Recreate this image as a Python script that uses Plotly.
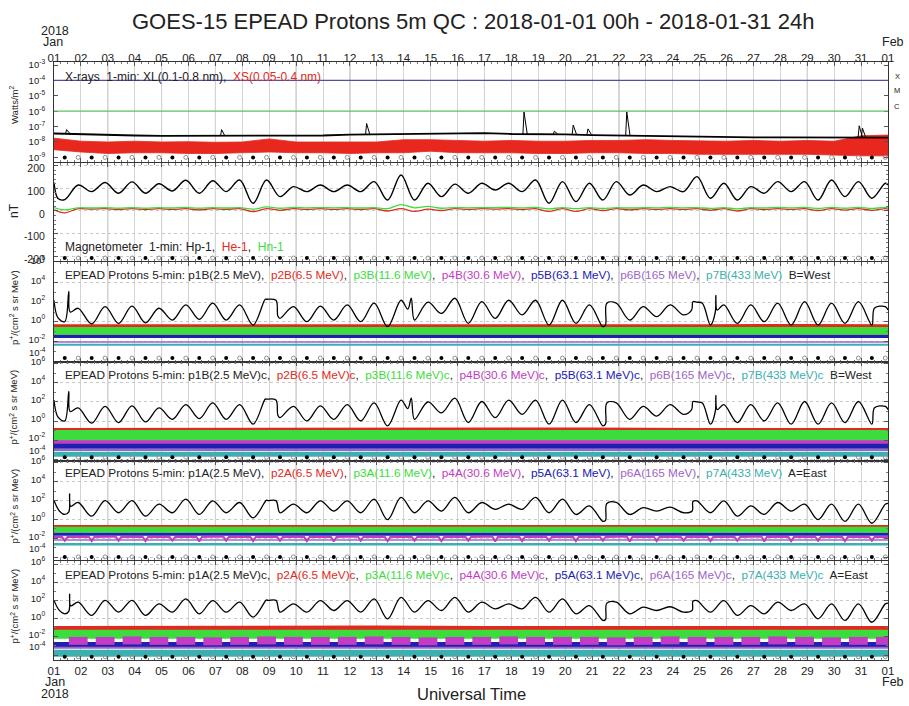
import numpy as np
import plotly.graph_objects as go

W, H = 909, 706

# ---------------- data ----------------
day_labels = ["01", "02", "03", "04", "05", "06", "07", "08", "09", "10", "11", "12", "13", "14", "15", "16",
              "17", "18", "19", "20", "21", "22", "23", "24", "25", "26", "27", "28", "29", "30", "31", "01"]
dark_days = [2, 4, 6, 9, 11, 16, 21, 28]

# sample times (days since 2018-01-01 00 UT): start, then local midnight / local noon of each day, end
grid_t = [0.0] + [d + f for d in range(31) for f in (0.4, 0.9)] + [31.0]
days = list(range(31))

# X-rays (log10 W/m^2)
xl_day_t = list(range(32))
xl_day = [-7.45, -7.5, -7.55, -7.58, -7.6, -7.6, -7.6, -7.58, -7.58, -7.6, -7.58, -7.52, -7.5, -7.5, -7.48, -7.45,
          -7.42, -7.48, -7.48, -7.5, -7.55, -7.58, -7.6, -7.62, -7.65, -7.68, -7.7, -7.7, -7.7, -7.72, -7.7, -7.72]
flare_t = [0.47, 6.23, 11.62, 17.47, 18.6, 19.3, 19.85, 21.29, 29.93, 30.05]
flare_base = [-7.45, -7.6, -7.52, -7.48, -7.48, -7.5, -7.5, -7.58, -7.7, -7.7]
flare_peak = [-7.2, -7.2, -6.8, -6.05, -7.3, -6.9, -7.15, -6.05, -6.95, -7.1]
xs_hi = [-7.75, -7.95, -8.0, -7.95, -8.0, -7.98, -8.02, -8.0, -7.8, -8.0, -8.0, -7.98, -8.0, -7.85, -7.85, -7.9,
         -7.95, -7.9, -7.95, -7.95, -7.9, -7.9, -7.85, -7.9, -7.92, -7.95, -7.9, -7.95, -7.9, -7.95, -7.6, -7.55]
xs_lo = [-8.5, -8.65, -8.75, -8.7, -8.7, -8.75, -8.75, -8.7, -8.65, -8.7, -8.7, -8.75, -8.7, -8.7, -8.6, -8.7,
         -8.7, -8.7, -8.75, -8.75, -8.7, -8.7, -8.75, -8.75, -8.8, -8.8, -8.8, -8.8, -8.8, -8.85, -8.9, -8.9]
class_levels = [1e-4, 1e-6]
class_colors = ["#5050a8", "#60c060"]
class_names = ["X", "M", "C"]

# Magnetometer (nT)
hp = [125,
      50, 114, 85, 125, 78, 128, 78, 120, 88, 135, 78, 133, 85, 136, 34, 136, 63, 107, 85, 114,
      85, 114, 85, 129, 48, 158, 48, 122, 63, 118, 78, 122, 92, 122, 85, 136, 34, 129, 41, 122,
      48, 129, 70, 114, 85, 107, 85, 151, 56, 122, 48, 107, 78, 129, 85, 129, 48, 136, 63, 129,
      56, 122,
      114]
hp_ext_t = [0.15]
hp_ext_v = [55]
he = [5,
      -8, 10, 8, 10, 6, 10, 6, 10, 7, 10, 5, 10, 7, 10, -3, 10, 3, 10, 7, 10,
      7, 10, 6, 10, 0, 10, -2, 8, 2, 10, 7, 10, 8, 10, 6, 10, -2, 10, -2, 10,
      2, 10, 5, 10, 7, 10, 7, 10, 3, 10, 0, 10, 6, 10, 7, 10, 2, 10, 4, 10,
      3, 10,
      8]
hn = [15,
      5, 14, 13, 15, 12, 15, 12, 15, 13, 16, 12, 15, 13, 15, 8, 18, 12, 16, 14, 15,
      14, 15, 13, 15, 10, 28, 14, 20, 12, 15, 14, 15, 15, 16, 13, 16, 9, 15, 10, 15,
      11, 15, 13, 15, 14, 16, 14, 15, 11, 15, 9, 15, 13, 16, 14, 16, 11, 16, 12, 16,
      11, 16,
      16]

# Protons (log10 p+/(cm2 s sr MeV))
p1b = [2.2,
       0.01, 1.38, -0.22, 1.54, -0.16, 1.6, -0.1, 1.38, 0.18, 1.72, 0.25, 1.9, 0.18, 1.72, -0.33, 2.3,
       0.35, 1.54, 0.01, 1.6, 0.18, 1.72, 0.01, 1.9, -0.5, 2.2, 0.18, 2.0, 0.85, 2.4, -0.16, 2.05,
       0.35, 2.2, 0.7, 2.2, -0.33, 2.2, -0.16, 1.72, -0.5, 1.9, 0.18, 1.54, 0.52, 1.72, 0.7, 2.0,
       -0.33, 1.72, -0.16, 1.72, 0.01, 1.9, -0.33, 2.05, -0.33, 1.9, -0.16, 2.05, -0.33, 1.54,
       1.2]
p1b_ext_t = [0.15, 0.55, 0.6, 7.85, 8.25, 8.32, 13.15, 13.28, 20.5, 20.55, 23.7, 23.75, 24.1, 24.58, 24.6, 24.65, 30.5]
p1b_ext_v = [0.4, 3.1, 1.0, 2.3, 2.2, 0.6, 1.3, 2.4, -0.3, 1.9, 1.2, 2.05, 1.9, 1.0, 2.7, 1.2, 1.4]
p1a = [2.0,
       0.53, 1.8, 0.35, 2.0, 0.71, 2.0, 0.35, 1.62, 0.71, 2.16, 0.53, 1.98, 0.71, 1.8, 0.16, 2.05,
       0.71, 1.62, 0.71, 1.98, 0.89, 1.98, 0.71, 2.16, -0.02, 2.34, 0.71, 1.98, 0.89, 2.34, 0.71, 1.8,
       1.07, 1.62, 1.07, 2.34, 0.71, 2.16, 0.53, 1.43, -0.2, 1.8, 0.53, 1.25, 0.89, 1.3, 0.71, 1.98,
       0.71, 1.98, 0.35, 1.43, 0.53, 1.8, 0.89, 1.62, -0.02, 1.62, -0.2, 1.62, -0.4, 1.62,
       1.7]
p1a_ext_t = [0.2, 0.55, 0.58, 0.62, 7.95, 8.25, 20.5, 20.55, 23.72, 23.75]
p1a_ext_v = [0.9, 0.8, 2.7, 1.4, 2.0, 2.0, -0.1, 1.7, 0.9, 1.9]

band_t = [0, 4, 8, 12, 16, 20, 24, 28, 31]
# B detector, uncorrected
p2b = [-0.5, -0.52, -0.5, -0.5, -0.48, -0.5, -0.5, -0.48, -0.5]
p3b = [-0.95, -0.95, -0.9, -0.95, -0.95, -0.9, -0.95, -0.9, -0.95]
p4b = [-1.42, -1.42, -1.4, -1.42, -1.42, -1.4, -1.42, -1.4, -1.42]
p5b = [-1.5, -1.5, -1.48, -1.5, -1.52, -1.5, -1.5, -1.48, -1.5]
p6b = [-2.05, -2.05, -2.05, -2.05, -2.05, -2.05, -2.05, -2.05, -2.05]
p7b = [-2.35, -2.35, -2.33, -2.35, -2.35, -2.35, -2.33, -2.35, -2.35]
# B detector, corrected
p2bc = [-1.2, -1.15, -1.2, -1.15, -1.2, -1.15, -1.2, -1.2, -1.2]
p3bc = [-1.58, -1.58, -1.55, -1.58, -1.58, -1.55, -1.58, -1.58, -1.58]
p4bc = [-2.4, -2.4, -2.38, -2.4, -2.4, -2.38, -2.4, -2.4, -2.4]
p5bc = [-2.65, -2.65, -2.65, -2.65, -2.65, -2.65, -2.65, -2.65, -2.65]
p6bc = [-3.05, -3.05, -3.05, -3.05, -3.05, -3.05, -3.05, -3.05, -3.05]
p7bc = [-3.5, -3.5, -3.5, -3.5, -3.5, -3.5, -3.5, -3.5, -3.5]
# A detector, uncorrected
p2a = [-0.79, -0.79, -0.76, -0.79, -0.79, -0.76, -0.79, -0.79, -0.79]
p3a = [-1.1, -1.1, -1.07, -1.1, -1.1, -1.07, -1.1, -1.1, -1.1]
p5a = [-1.58, -1.58, -1.58, -1.58, -1.58, -1.58, -1.58, -1.58, -1.58]
p4a_lvl = [-1.85, -1.85, -1.83, -1.85, -1.87, -1.85, -1.83, -1.85, -1.85, -1.87, -1.85, -1.83, -1.85, -1.85, -1.87,
           -1.85, -1.83, -1.85, -1.85, -1.87, -1.85, -1.83, -1.85, -1.85, -1.87, -1.85, -1.83, -1.85, -1.85, -1.87,
           -1.85]
p4a_dip = [-2.25, -2.3, -2.25, -2.3, -2.25, -2.35, -2.25, -2.3, -2.25, -2.3, -2.35, -2.25, -2.3, -2.25, -2.3, -2.25,
           -2.35, -2.3, -2.25, -2.3, -2.25, -2.35, -2.3, -2.25, -2.3, -2.25, -2.35, -2.3, -2.25, -2.3, -2.25]
p6a = [-2.17, -2.17, -2.17, -2.17, -2.17, -2.17, -2.17, -2.17, -2.17]
p7a = [-2.62, -2.62, -2.6, -2.62, -2.62, -2.62, -2.6, -2.62, -2.62]
# A detector, corrected
p2ac = [-1.2, -1.15, -1.2, -1.15, -1.2, -1.15, -1.2, -1.2, -1.2]
p3ac = [-1.72, -1.72, -1.68, -1.72, -1.72, -1.68, -1.72, -1.72, -1.72]
p5ac = [-2.85, -2.85, -2.85, -2.85, -2.85, -2.85, -2.85, -2.85, -2.85]
p4ac_blk = [-2.45, -2.45, -2.4, -2.45, -2.45, -2.5, -2.45, -2.4, -2.45, -2.45, -2.45, -2.4, -2.45, -2.5, -2.45, -2.45,
            -2.4, -2.45, -2.45, -2.45, -2.5, -2.45, -2.4, -2.45, -2.45, -2.45, -2.4, -2.45, -2.5, -2.45, -2.45]
p6ac = [-3.2, -3.2, -3.2, -3.2, -3.2, -3.2, -3.2, -3.2, -3.2]
p7ac = [-3.8, -3.8, -3.8, -3.8, -3.8, -3.8, -3.8, -3.8, -3.8]

channels = ["p1", "p2", "p3", "p4", "p5", "p6", "p7"]
energies = ["2.5", "6.5", "11.6", "30.6", "63.1", "165", "433"]
ch_colors = ["#000000", "#e02a20", "#3cdc3c", "#c43cc4", "#2020b0", "#a064c8", "#3cb0b0"]

# ---------------- layout helpers ----------------
XL_PX, XR_PX = 54, 888
panels_px = [(62, 162), (163, 261), (262, 362), (362, 461), (461, 560), (561, 660)]
yranges = [(-9.30, -2.805), (-220, 211), (-4.1, 6.1), (-4.2, 6.2), (-4.3, 6.2), (-4.55, 6.33)]
dots_y = [10 ** -9.0, -207, 10 ** -3.7, 10 ** -3.8, 10 ** -3.97, 10 ** -4.2]


def px_x(p):
    return p / W


def px_y(p):
    return 1 - p / H


def merged(t, v, et, ev):
    pts = sorted(zip(list(t) + list(et), list(v) + list(ev)))
    return [p[0] for p in pts], [p[1] for p in pts]


fig = go.Figure()


def ax(row):
    return ("x", "y") if row == 1 else ("x%d" % row, "y%d" % row)


def add(row, x, y, color, width, shape="linear", mode="lines", marker=None, fill=None, fillcolor=None):
    xa, ya = ax(row)
    kw = dict(x=x, y=y, mode=mode, xaxis=xa, yaxis=ya, showlegend=False, hoverinfo="skip", cliponaxis=True)
    if mode == "lines":
        ln = dict(color=color, width=width, shape=shape)
        if shape == "spline":
            ln["smoothing"] = 1.0
        kw["line"] = ln
    if marker is not None:
        kw["marker"] = marker
    if fill is not None:
        kw["fill"] = fill
        kw["fillcolor"] = fillcolor
    fig.add_trace(go.Scatter(**kw))


def pow10(v):
    return [None if a is None else 10 ** a for a in v]


# ---- panel 1: X-rays
add(1, xl_day_t, pow10(xs_hi), "#e02a20", 0.8)
add(1, xl_day_t, pow10(xs_lo), "#e02a20", 0.8, fill="tonexty", fillcolor="#e8281e")
add(1, xl_day_t, pow10(xl_day), "#000000", 1.8)
fx, fy = [], []
for t, b, p in zip(flare_t, flare_base, flare_peak):
    fx += [t - 0.04, t, t + 0.12, None]
    fy += [10 ** b, 10 ** p, 10 ** b, None]
add(1, fx, fy, "#000000", 1.0)

# ---- panel 2: magnetometer
add(2, grid_t, he, "#e02a20", 1.3, shape="spline")
add(2, grid_t, hn, "#3cdc3c", 1.3, shape="spline")
t_hp, v_hp = merged(grid_t, hp, hp_ext_t, hp_ext_v)
add(2, t_hp, v_hp, "#000000", 1.4, shape="spline")


def proton_panel(row, bands, p1t, p1v, extra=None):
    for vals, col, w in bands:
        add(row, band_t, pow10(vals), col, w)
    if extra is not None:
        extra()
    add(row, p1t, pow10(p1v), "#000000", 1.3, shape="spline")


tb, vb = merged(grid_t, p1b, p1b_ext_t, p1b_ext_v)
ta, va = merged(grid_t, p1a, p1a_ext_t, p1a_ext_v)


def p4a_line():
    x, y = [], []
    for d, lv, dp in zip(days, p4a_lvl, p4a_dip):
        x += [d, d + 0.3, d + 0.4, d + 0.5]
        y += [lv, lv, dp, lv]
    x.append(31)
    y.append(p4a_lvl[-1])
    add(5, x, pow10(y), ch_colors[3], 2)


def p4ac_blocks():
    x, y = [], []
    for d, v in zip(days, p4ac_blk):
        x += [d + 0.55, d + 1.25, None]
        y += [v, v, None]
    add(6, x, pow10(y), ch_colors[3], 8)


proton_panel(3, [(p2b, ch_colors[1], 5), (p3b, ch_colors[2], 8), (p4b, ch_colors[3], 2),
                 (p5b, ch_colors[4], 3), (p6b, ch_colors[5], 1.5), (p7b, ch_colors[6], 2)], tb, vb)
proton_panel(4, [(p2bc, ch_colors[1], 9), (p3bc, ch_colors[2], 12), (p4bc, ch_colors[3], 7),
                 (p5bc, ch_colors[4], 5), (p6bc, ch_colors[5], 2), (p7bc, ch_colors[6], 5)], tb, vb)
proton_panel(5, [(p2a, ch_colors[1], 4), (p3a, ch_colors[2], 6), (p5a, ch_colors[4], 3),
                 (p6a, ch_colors[5], 1.5), (p7a, ch_colors[6], 2.5)], ta, va, extra=p4a_line)
proton_panel(6, [(p2ac, ch_colors[1], 7), (p3ac, ch_colors[2], 9), (p5ac, ch_colors[4], 5),
                 (p6ac, ch_colors[5], 2), (p7ac, ch_colors[6], 7)], ta, va, extra=p4ac_blocks)

# ---- day/night markers
night_t = [d + 0.4 for d in days]
noon_t = [d + 0.9 for d in days]
for r in range(1, 7):
    add(r, night_t, [dots_y[r - 1]] * 31, None, None, mode="markers",
        marker=dict(symbol="circle", size=4, color="#000000"))
    add(r, noon_t, [dots_y[r - 1]] * 31, None, None, mode="markers",
        marker=dict(symbol="circle-open", size=4, color="#909090", line=dict(width=1)))

# invisible trace that carries the top date axis
fig.add_trace(go.Scatter(x=[0, 31], y=[None, None], xaxis="x7", yaxis="y", mode="lines", showlegend=False,
                         hoverinfo="skip"))

# ---------------- axes ----------------
layout = dict(width=W, height=H, margin=dict(l=0, r=0, t=0, b=0, pad=0, autoexpand=False), paper_bgcolor="white",
              plot_bgcolor="white", font=dict(family="Liberation Sans, Arial, sans-serif", color="#222", size=11),
              showlegend=False)


def sup(k):
    return "10<sup>%d</sup>" % k


proton_ticks = list(range(6, -5, -2))

for i in range(6):
    r = i + 1
    xa_name = "xaxis" if r == 1 else "xaxis%d" % r
    ya_name = "yaxis" if r == 1 else "yaxis%d" % r
    top, bot = panels_px[i]
    xa = dict(domain=[px_x(XL_PX), px_x(XR_PX)], range=[0, 31], anchor=ax(r)[1], automargin=False,
              tickvals=list(range(32)), ticktext=day_labels, showgrid=True, gridcolor="#d4d4d4", gridwidth=1,
              ticks="inside", ticklen=4, tickcolor="#555", showline=True, linecolor="#333", linewidth=1,
              mirror="ticks", zeroline=False, showticklabels=(r == 6),
              tickfont=dict(size=11.5, color="#222"),
              minor=dict(tick0=0, dtick=0.25, ticks="inside", ticklen=2, tickcolor="#777", showgrid=False))
    if r == 1:
        xa["side"] = "top"
    ya = dict(domain=[px_y(bot), px_y(top)], anchor=ax(r)[0], showline=True, linecolor="#333", linewidth=1,
              mirror="ticks", ticks="inside", ticklen=4, tickcolor="#555", zeroline=False, automargin=False,
              tickfont=dict(size=9.5, color="#222"), range=list(yranges[i]), ticklabelstandoff=6)
    if r == 1:
        ya.update(type="log", tickvals=[10.0 ** k for k in range(-3, -10, -1)],
                  ticktext=[sup(k) for k in range(-3, -10, -1)], showgrid=False)
    elif r == 2:
        ya.update(type="linear", tickvals=[200, 100, 0, -100, -200], ticktext=["200", "100", "0", "-100", "-200"],
                  showgrid=True, gridcolor="#c8c8c8", griddash="dot", tickfont=dict(size=10.5, color="#222"),
                  ticklabelshift=3,
                  minor=dict(dtick=20, ticks="inside", ticklen=2, tickcolor="#777", showgrid=False))
    else:
        # lowest decade label is written just above its tick (as in the original), see annotations
        ya.update(type="log", tickvals=[10.0 ** k for k in proton_ticks],
                  ticktext=[sup(k) if k != proton_ticks[-1] else "" for k in proton_ticks], showgrid=True,
                  gridcolor="#c8c8c8", griddash="dot", ticklabelshift=-2,
                  minor=dict(tickvals=[10.0 ** k for k in range(5, -4, -2)], ticks="inside", ticklen=2,
                             tickcolor="#777", showgrid=False))
    layout[xa_name] = xa
    layout[ya_name] = ya

layout["xaxis7"] = dict(overlaying="x", side="top", anchor="free", position=px_y(64), range=[0, 31],
                        tickvals=list(range(32)), ticktext=day_labels, showline=False, ticks="", showgrid=False,
                        zeroline=False, automargin=False, tickfont=dict(size=11.5, color="#222"))

shapes = []
for r in range(1, 7):
    xa, ya = ax(r)
    for d in dark_days:
        shapes.append(dict(type="line", xref=xa, yref=ya + " domain", x0=d, x1=d, y0=0, y1=1,
                           line=dict(color="#a8a8a8", width=1), layer="below"))
for lev, col in zip(class_levels, class_colors):
    shapes.append(dict(type="line", xref="x domain", yref="y", x0=0, x1=1, y0=lev, y1=lev,
                       line=dict(color=col, width=1.2)))
layout["shapes"] = shapes

ann = []


def text(xp, yp, s, size, color="#222", xanchor="center", angle=0):
    ann.append(dict(x=px_x(xp), y=px_y(yp), xref="paper", yref="paper", text=s, showarrow=False,
                    font=dict(size=size, color=color), xanchor=xanchor, yanchor="middle", textangle=angle))


text(473, 22, "GOES-15 EPEAD Protons 5m QC : 2018-01-01 00h - 2018-01-31 24h", 22)
text(55, 31, "2018", 12.5)
text(53, 42, "Jan", 12.5)
text(893, 42, "Feb", 12.5)
text(55, 682, "Jan", 12.5)
text(55, 694, "2018", 12.5)
text(893, 682, "Feb", 12.5)
text(471, 694, "Universal Time", 16.5)
text(14, 105, "Watts/m<sup>2</sup>", 9.5, angle=-90)
text(14, 211, "nT", 12, angle=-90)
for i in range(2, 6):
    top, bot = panels_px[i]
    text(14, (top + bot) / 2 - 4, "p<sup>+</sup>/(cm<sup>2</sup> s sr MeV)", 9.5, angle=-90)
for nm, yp in zip(class_names, [76, 90, 107]):
    text(897, yp, nm, 7.5)

# lowest proton decade labels, raised above their tick like in the original
for r in range(3, 7):
    ann.append(dict(x=px_x(XL_PX - 6), y=-4, xref="paper", yref="y%d" % r, text=sup(proton_ticks[-1]),
                    showarrow=False, font=dict(size=9.5, color="#222"), xanchor="right", yanchor="middle",
                    yshift=9))

text(63, 77, "X-rays  1-min: XL(0.1-0.8 nm),  <span style='color:#e02a20'>XS(0.05-0.4 nm)</span>", 12,
     xanchor="left")
text(63, 247, "Magnetometer  1-min: Hp-1,  <span style='color:#e02a20'>He-1</span>,  "
              "<span style='color:#3cdc3c'>Hn-1</span>", 12, xanchor="left")


def proton_label(det, corr, side):
    parts = []
    for k, (c, e) in enumerate(zip(channels, energies)):
        s = "%s%s(%s MeV)%s" % (c, det, e, "c" if corr else "")
        if k == 0:
            parts.append(s)
        else:
            parts.append("<span style='color:%s'>%s</span>" % (ch_colors[k], s))
    return "EPEAD Protons 5-min: " + ",  ".join(parts) + "  " + side


text(63, 275, proton_label("B", False, "B=West"), 11.8, xanchor="left")
text(63, 375, proton_label("B", True, "B=West"), 11.8, xanchor="left")
text(63, 473, proton_label("A", False, "A=East"), 11.8, xanchor="left")
text(63, 575, proton_label("A", True, "A=East"), 11.8, xanchor="left")

layout["annotations"] = ann
fig.update_layout(**layout)
fig.write_html("out.html", config={"displayModeBar": False},
               post_script="document.body.style.margin='0px';document.body.style.padding='0px';")
